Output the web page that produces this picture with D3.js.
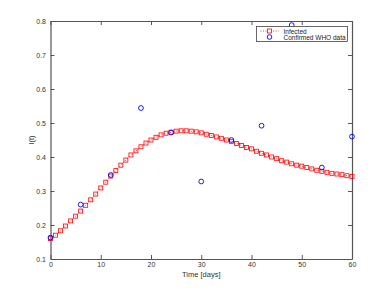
<!DOCTYPE html>
<html>
<head>
<meta charset="utf-8">
<script src="https://cdn.jsdelivr.net/npm/d3@7"></script>
<style>
  html, body { margin: 0; padding: 0; background: #fff; }
  svg { display: block; font-family: "Liberation Sans", Arial, sans-serif; }
  .tick text { fill: #333; font-size: 7px; }
</style>
</head>
<body>
<div id="chart"></div>
<script>
// model curve I(t), one value per day 0..60
const days = d3.range(0, 61);
const infected = [
  0.160, 0.170, 0.183, 0.197, 0.212, 0.226, 0.241, 0.258, 0.274, 0.291,
  0.309, 0.326, 0.344, 0.360, 0.376, 0.391, 0.406, 0.418, 0.430, 0.441,
  0.450, 0.458, 0.465, 0.470, 0.473, 0.476, 0.477, 0.477, 0.476, 0.474,
  0.471, 0.467, 0.463, 0.459, 0.455, 0.450, 0.446, 0.440, 0.434, 0.428,
  0.424, 0.417, 0.411, 0.406, 0.400, 0.395, 0.389, 0.385, 0.380, 0.376,
  0.373, 0.369, 0.365, 0.361, 0.358, 0.355, 0.352, 0.350, 0.348, 0.345,
  0.343
];
// confirmed WHO data
const whoDays = [0, 6, 12, 18, 24, 30, 36, 42, 48, 54, 60];
const whoVals = [0.163, 0.260, 0.347, 0.544, 0.472, 0.328, 0.450, 0.492, 0.788, 0.369, 0.460];

const xTicks = [0, 10, 20, 30, 40, 50, 60];
const yTicks = [0.1, 0.2, 0.3, 0.4, 0.5, 0.6, 0.7, 0.8];

const W = 389, H = 292;
const margin = { top: 21, right: 37, bottom: 33, left: 50.5 };
const w = W - margin.left - margin.right;
const h = H - margin.top - margin.bottom;
const axisColor = "#555";

const svg = d3.select("#chart").append("svg")
  .attr("width", W).attr("height", H);
const g = svg.append("g").attr("transform", `translate(${margin.left},${margin.top})`);

const x = d3.scaleLinear().domain([0, 60]).range([0, w]);
const y = d3.scaleLinear().domain([0.1, 0.8]).range([h, 0]);

// frame axes, ticks pointing inward
const fmt = d3.format(".1f");
const axBottom = g.append("g").attr("transform", `translate(0,${h})`)
  .call(d3.axisBottom(x).tickValues(xTicks).tickSizeInner(-4).tickSizeOuter(0).tickPadding(3.5));
const axLeft = g.append("g")
  .call(d3.axisLeft(y).tickValues(yTicks).tickFormat(fmt).tickSizeInner(-4).tickSizeOuter(0).tickPadding(4.5));
const axTop = g.append("g")
  .call(d3.axisTop(x).tickValues(xTicks).tickSizeInner(-4).tickSizeOuter(0).tickFormat(""));
const axRight = g.append("g").attr("transform", `translate(${w},0)`)
  .call(d3.axisRight(y).tickValues(yTicks).tickSizeInner(-4).tickSizeOuter(0).tickFormat(""));
[axBottom, axLeft, axTop, axRight].forEach((a) => {
  a.selectAll("path, line").attr("stroke", axisColor);
  a.select(".domain").attr("stroke-width", 1.2);
});

// model line (dotted) + square markers
const line = d3.line().x((d, i) => x(days[i])).y((d) => y(d));
g.append("path").datum(infected)
  .attr("fill", "none").attr("stroke", "#f00").attr("stroke-width", 0.8)
  .attr("stroke-dasharray", "1,2").attr("d", line);

g.selectAll("rect.inf").data(infected).join("rect")
  .attr("class", "inf")
  .attr("x", (d, i) => x(days[i]) - 2).attr("y", (d) => y(d) - 2)
  .attr("width", 4).attr("height", 4)
  .attr("fill", "none").attr("stroke", "#f00").attr("stroke-width", 0.8);

g.selectAll("circle.who").data(whoVals).join("circle")
  .attr("class", "who")
  .attr("cx", (d, i) => x(whoDays[i])).attr("cy", (d) => y(d))
  .attr("r", 2.4)
  .attr("fill", "none").attr("stroke", "#00f").attr("stroke-width", 0.9);

// axis labels
svg.append("text")
  .attr("x", margin.left + w / 2).attr("y", 277)
  .attr("text-anchor", "middle").attr("font-size", 7.5).attr("fill", "#333")
  .text("Time [days]");
svg.append("text")
  .attr("transform", `translate(34,${margin.top + h / 2}) rotate(-90)`)
  .attr("text-anchor", "middle").attr("font-size", 7.5).attr("fill", "#333")
  .text("I(t)");

// legend
const lg = svg.append("g").attr("transform", "translate(256.5,26.5)");
lg.append("rect").attr("width", 91).attr("height", 15)
  .attr("fill", "#fff").attr("stroke", "#444").attr("stroke-width", 0.8);
lg.append("line").attr("x1", 4).attr("x2", 22).attr("y1", 4.5).attr("y2", 4.5)
  .attr("stroke", "#f00").attr("stroke-width", 0.8).attr("stroke-dasharray", "1,1.5");
lg.append("rect").attr("x", 11).attr("y", 2.5).attr("width", 4).attr("height", 4)
  .attr("fill", "#fff").attr("stroke", "#f00").attr("stroke-width", 0.8);
lg.append("circle").attr("cx", 13).attr("cy", 10.5).attr("r", 2.3)
  .attr("fill", "none").attr("stroke", "#00f").attr("stroke-width", 0.9);
lg.append("text").attr("x", 27).attr("y", 7).attr("font-size", 6.5).attr("fill", "#222").text("Infected");
lg.append("text").attr("x", 27).attr("y", 13).attr("font-size", 6.5).attr("fill", "#222").text("Confirmed WHO data");
</script>
</body>
</html>
